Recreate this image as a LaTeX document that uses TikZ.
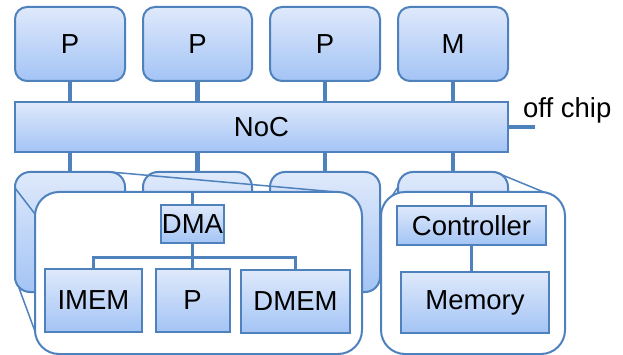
\documentclass[tikz,border=0pt]{standalone}
\usepackage{fontspec}
\setmainfont{Liberation Sans}
\definecolor{bord}{RGB}{79,129,189}
\definecolor{ftop}{RGB}{223,233,251}
\definecolor{fbot}{RGB}{163,196,245}
\begin{document}
\begin{tikzpicture}[x=1pt,y=-1pt,
  lbl/.style={font=\fontsize{27.5}{31}\selectfont, text=black, inner sep=0pt},
  tile/.style={lbl, draw=bord, line width=2pt, rounded corners=12pt, top color=ftop, bottom color=fbot, minimum width=110pt, minimum height=74pt},
  ltile/.style={tile, rounded corners=15pt, minimum height=120pt},
  barbox/.style={lbl, draw=bord, line width=2pt, top color=ftop, bottom color=fbot, minimum width=493pt, minimum height=50pt},
  bigbox/.style={draw=bord, line width=2pt, fill=white, rounded corners=24pt, minimum height=162pt, inner sep=0pt},
  ibox/.style={lbl, draw=bord, line width=2pt, top color=ftop, bottom color=fbot},
  conn/.style={draw=bord, line width=4.5pt},
  tline/.style={draw=bord, line width=3pt},
  zline/.style={draw=bord, line width=1.5pt}
]
\useasboundingbox (0,0) rectangle (623,355);
% top tiles
\node[tile] (p1) at (70,44) {P};
\node[tile, minimum width=109pt] (p2) at (197.5,44) {P};
\node[tile] (p3) at (325,44) {P};
\node[tile] (m) at (453,44) {M};
\node[barbox] (noc) at (261.5,127) {NoC};
\foreach \n in {p1,p2,p3,m} \draw[conn] (\n.south) -- (\n.south |- noc.north);
% off chip
\coordinate (oc) at (535,127);
\draw[conn] (noc.east) -- (oc);
\node[lbl, anchor=base west] (offchip) at (523,118) {off chip};
% lower tiles
\node[ltile] (l1) at (70,232) {};
\node[ltile, minimum width=109pt] (l2) at (197.5,232) {};
\node[ltile] (l3) at (325,232) {};
\node[ltile] (l4) at (453,232) {};
\foreach \n in {l1,l2,l3,l4} \draw[conn] (\n.north |- noc.south) -- (\n.north);
% zoom lines
\coordinate (za1) at (110,172); \coordinate (zb1) at (336,192);
\coordinate (za2) at (15,188);  \coordinate (zb2) at (35,214);
\coordinate (za3) at (19,288);  \coordinate (zb3) at (36,334);
\coordinate (za4) at (495,172); \coordinate (zb4) at (546,193);
\coordinate (za5) at (398,187); \coordinate (zb5) at (383,210);
\draw[zline] (za1) -- (zb1);
\draw[zline] (za2) -- (zb2);
\draw[zline] (za3) -- (zb3);
\draw[zline] (za4) -- (zb4);
\draw[zline] (za5) -- (zb5);
% big boxes
\node[bigbox, minimum width=327pt] (b1) at (198.5,273) {};
\node[bigbox, minimum width=184pt] (b2) at (473,273) {};
% processor tile detail
\node[ibox, minimum width=63pt, minimum height=38pt] (dma) at (192.5,224) {DMA};
\node[ibox, minimum width=97pt, minimum height=63pt] (imem) at (93.5,300.5) {IMEM};
\node[ibox, minimum width=74pt, minimum height=63pt] (pi) at (192.5,300.5) {P};
\node[ibox, minimum width=109pt, minimum height=63pt] (dmem) at (295.5,301.5) {DMEM};
\draw[tline] (dma.north) -- (dma.north |- b1.north);
\draw[tline] (dma.south) -- ++(0,13) coordinate (tj);
\draw[tline] (imem.north) |- (tj) -| (dmem.north);
\draw[tline] (tj) -- (pi.north);
% memory tile detail
\node[ibox, minimum width=149pt, minimum height=39pt] (ctl) at (471.5,225.5) {Controller};
\node[ibox, minimum width=148pt, minimum height=61pt] (mem) at (475,302.5) {Memory};
\draw[tline] (ctl.north) -- (ctl.north |- b2.north);
\draw[tline] (ctl.south) -- (ctl.south |- mem.north);
\end{tikzpicture}
\end{document}
